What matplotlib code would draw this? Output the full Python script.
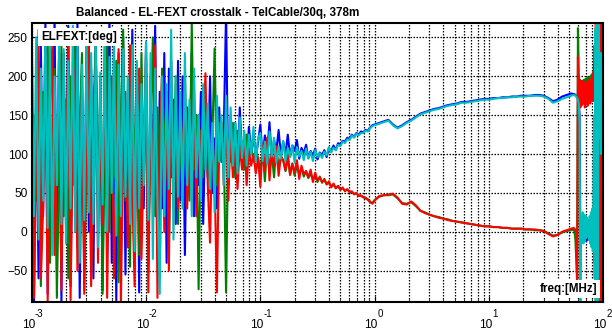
import matplotlib
matplotlib.use("Agg")
import matplotlib.pyplot as plt
from matplotlib.ticker import LogLocator, NullFormatter, FixedLocator

plt.rcParams['font.family'] = ['Liberation Sans', 'DejaVu Sans']

# ---------------- data ----------------
title = "Balanced - EL-FEXT crosstalk - TelCable/30q, 378m"
ylabel_txt = "ELFEXT:[deg]"
xlabel_txt = "freq:[MHz]"

mant50 = [1.000, 1.047, 1.096, 1.148, 1.202, 1.259, 1.318, 1.380, 1.445, 1.514,
          1.585, 1.660, 1.738, 1.820, 1.905, 1.995, 2.089, 2.188, 2.291, 2.399,
          2.512, 2.630, 2.754, 2.884, 3.020, 3.162, 3.311, 3.467, 3.631, 3.802,
          3.981, 4.169, 4.365, 4.571, 4.786, 5.012, 5.248, 5.495, 5.754, 6.026,
          6.310, 6.607, 6.918, 7.244, 7.586, 7.943, 8.318, 8.710, 9.120, 9.550]
mant25 = mant50[::2]
freq_hf = list(range(55, 101))
freq = ([m * 1e-3 for m in mant50] + [m * 1e-2 for m in mant50] +
        [m * 1e-1 for m in mant50] + [m * 1.0 for m in mant25] +
        [m * 10.0 for m in mant25[:19]] + freq_hf)

# blue
blue_lf = [280, -95, 180, -60, 240, 20, 270, -80, 150, 60,
           275, -50, 200, -90, 230, 10, 265, -70, 190, 40,
           270, -85, 160, -30, 250, 0, 210, -60, 260, 30,
           180, -75, 240, 50, 275, -40, 200, -90, 230, 20,
           250, -55, 170, 40, 260, -20, 215, -78, 190, 30,
           240, -50, 200, 60, 265, -20, 180, 30, 230, -40,
           210, 70, 170, 10, 220, 40, 200, -30, 160, 80,
           230, 20, 150, 60, 180, 10, 140, 70, 200, 50,
           120, 30, 160, 90, 130, 280, 60, 150, 80, 140,
           70, 160, 95, 120, 85, 135, 100, 125, 95, 115]
blue_mf = [138, 96, 124, 102, 141, 94, 118, 104, 131, 97,
           116, 99, 125, 97, 111, 104, 118, 94, 108, 101,
           112, 95, 104, 98, 107, 93, 102, 99, 105, 96,
           108, 104, 111, 105, 114, 112, 117, 116, 121, 119,
           125, 122, 127, 125, 129, 128, 131, 130, 134, 137]
blue_f3 = [138, 140, 142, 144, 138, 134, 137, 141, 144, 148, 152, 154, 156,
           158, 159, 161, 163, 164, 165, 167, 167, 168, 169, 170, 171]
blue_f4 = [171, 172, 172, 173, 173, 174, 174, 175, 175, 175, 176, 176, 175,
           172, 168, 170, 174, 176, 178]
blue_hf = [177, 177, 176, 175, 173, 171, 168, 150, -5, -10, -12, -6, -14, -8,
           -10, -5, -12, -8, -6, -10, -4, -9, -3, -8, 0, -6, 5, -10, 20, -40,
           60, -80, 150, 40, 200, -60, 120, 160, 60, 140, 180, 90, 170, 130,
           150, 140]

# green
green_lf = [-90, 150, 40, 220, -70, 180, 100, 250, -40, 130,
            210, -85, 90, 240, 20, 170, -60, 200, 60, 260,
            -20, 140, 230, -75, 110, 190, -50, 160, 240, 30,
            200, -80, 120, 250, 0, 180, 70, 220, -65, 150,
            260, 40, 100, -45, 210, 80, 170, -30, 230, 60,
            190, -40, 140, 250, 20, 160, -60, 210, 90, 180,
            -20, 150, 70, 200, 10, 130, 60, 180, 90, 40,
            270, 80, 150, -74, 130, 70, 160, 100, 50, 120,
            236, 60, 140, 90, 110, -78, 120, 90, 140, 70,
            130, 100, 115, 80, 125, 95, 110, 90, 105, 95]
green_mf = [75, 105, 65, 115, 80, 100, 70, 110, 82, 95,
            92, 78, 95, 74, 88, 72, 86, 74, 82, 71,
            78, 69, 75, 67, 73, 64, 71, 63, 68, 61,
            63, 58, 61, 56, 59, 54, 56, 53, 54, 52,
            51, 49, 49, 47, 46, 45, 43, 42, 38, 37]
green_f3 = [41, 45, 47, 47, 48, 43, 37, 36, 38, 33, 27, 25, 22, 20, 19, 17,
            16, 14, 13, 12, 11, 10, 9, 8, 7]
green_f4 = [7, 6, 6, 5, 5, 4, 4, 4, 3, 3, 2, 2, 1, -2, -5, -4, -1, 1, 2]
green_hf = [3, 0, -10, -35, -62, 262, 200, 192, 195, 190, 194, 191, 195, 192,
            196, 193, 197, 194, 198, 195, 199, 196, 200, 197, 202, 199, 204,
            200, 215, 180, 260, -90, 150, 60, 230, -40, 200, 90, 180, 120,
            -90, 40, 160, 100, 140, 120]

# red
red_lf = [190, -85, 100, 260, -60, 30, 200, -90, 150, 240,
          -30, 80, 230, -75, 170, 60, 250, -88, 120, 210,
          -50, 40, 185, -80, 140, 255, -70, 90, 220, -40,
          160, 10, 245, -85, 130, 200, -60, 70, 235, -90,
          110, 180, -20, 240, 50, -70, 150, 210, -35, 100,
          230, -78, 170, 60, 240, -85, 120, 200, 0, 180,
          -50, 220, 90, 150, 30, 160, 80, 200, 30, 140,
          60, 180, 20, 150, 90, 120, 204, 60, -14, 130,
          70, -78, 110, 140, 60, 150, 40, 130, 70, 120,
          55, 110, 80, 125, 60, 105, 85, 100, 75, 95]
red_mf = [58, 112, 78, 121, 66, 104, 84, 110, 72, 98,
          92, 79, 101, 73, 87, 76, 92, 68, 85, 74,
          78, 70, 80, 64, 76, 66, 70, 64, 67, 61,
          65, 57, 62, 56, 59, 54, 57, 52, 55, 51,
          52, 48, 50, 46, 47, 44, 44, 41, 39, 36]
red_f3 = [40, 46, 47, 48, 49, 44, 36, 35, 39, 34, 27, 24, 22, 20, 18, 17,
          15, 14, 13, 12, 11, 10, 9, 8, 7]
red_f4 = [7, 6, 6, 5, 5, 4, 4, 4, 3, 3, 3, 2, 1, -3, -6, -4, 0, 2, 4]
red_hf = [5, 4, 2, 0, -70, 225, 165, 195, 160, 192, 163, 194, 165, 190, 160,
          193, 166, 191, 162, 195, 168, 192, 165, 196, 170, 198, 168, 205,
          175, 240, 150, 270, -90, 260, -90, 100, -90, 250, -90, -60, 270,
          -90, -80, 50, -90, 0]

# cyan
cyan_lf = [230, 20, 250, -10, 210, 40, 260, 5, 240, -30,
           200, 60, 255, 10, 235, -15, 220, 30, 265, 0,
           245, -40, 215, 15, 250, 25, 230, 10, 245, -20,
           205, 35, 240, 0, 225, 50, 250, -5, 215, 20,
           235, 45, 200, 10, 240, -25, 220, 30, 190, 60,
           245, 15, 230, -35, 210, 40, -80, 200, 20, 190,
           55, 260, -10, 200, 45, 180, 30, 230, 60, 170,
           20, 210, 70, 150, 40, 190, 80, 165, 55, 140,
           25, 175, 90, 150, 60, 175, 70, 160, 85, 140,
           75, 147, 95, 130, 85, 125, 100, 135, 90, 120]
cyan_mf = [127, 91, 116, 87, 129, 97, 121, 89, 110, 94,
           117, 91, 108, 96, 111, 89, 109, 97, 104, 92,
           107, 94, 103, 91, 105, 96, 101, 95, 103, 98,
           109, 102, 108, 105, 112, 110, 116, 114, 119, 118,
           124, 121, 126, 124, 127, 127, 130, 129, 133, 136]
cyan_f3 = [137, 139, 141, 143, 137, 133, 136, 140, 143, 147, 151, 153, 155,
           157, 158, 160, 162, 163, 164, 166, 166, 167, 168, 169, 170]
cyan_f4 = [170, 171, 172, 172, 173, 173, 174, 174, 174, 175, 175, 175, 174,
           171, 166, 168, 171, 173, 175]
cyan_hf = [176, 176, 175, 174, 172, 170, 165, 140, -90, 20, -10, 25, -15, 22,
           -12, 20, -8, 18, -5, 15, -10, 20, -15, 25, -20, 30, -25, 40, 150,
           -60, 260, -90, 270, -80, 250, -90, 270, 150, 200, 120, 230, 100,
           180, 130, 200, 150]

blue = blue_lf + blue_mf + blue_f3 + blue_f4 + blue_hf
green = green_lf + green_mf + green_f3 + green_f4 + green_hf
red = red_lf + red_mf + red_f3 + red_f4 + red_hf
cyan = cyan_lf + cyan_mf + cyan_f3 + cyan_f4 + cyan_hf

yticks = [-50, 0, 50, 100, 150, 200, 250]
decades = [-3, -2, -1, 0, 1, 2]

# ---------------- plot ----------------
W, H = 612, 332
fig = plt.figure(figsize=(W / 100, H / 100), dpi=100)
L, R, T, B = 31.7, 603.3, 22.7, 301.7
ax = fig.add_axes([L / W, 1 - B / H, (R - L) / W, (B - T) / H])

for ys, col in [(blue, '#0000ff'), (green, '#008000'), (red, '#ff0000'), (cyan, '#00bfbf')]:
    ax.plot(freq, ys, color=col, lw=1.5, solid_joinstyle='round')

ax.set_xscale('log')
ax.set_xlim(1e-3, 1e2)
ax.set_ylim(-90, 269)
ax.set_axisbelow(True)

ax.xaxis.set_major_locator(FixedLocator([10.0 ** d for d in decades]))
ax.xaxis.set_minor_locator(LogLocator(base=10, subs=range(2, 10), numticks=20))
ax.xaxis.set_major_formatter(NullFormatter())
ax.xaxis.set_minor_formatter(NullFormatter())
ax.set_yticks(yticks)

gstyle = dict(color='black', linestyle=(0, (1.2, 1.2)), linewidth=0.9)
ax.xaxis.grid(True, which='both', **gstyle)
ax.yaxis.grid(True, which='major', **gstyle)

ax.tick_params(axis='both', which='both', direction='in', color='black')
ax.tick_params(axis='both', which='major', length=4, width=0.8)
ax.tick_params(axis='x', which='minor', length=2, width=0.6)
ax.tick_params(axis='y', labelsize=8.6, pad=3)
for s in ax.spines.values():
    s.set_linewidth(1.5)
    s.set_color('black')

for d in decades:
    ax.annotate("10", xy=(10.0 ** d, 0), xycoords=('data', 'axes fraction'),
                xytext=(-3.5, -23), textcoords='offset pixels',
                ha='center', va='center', fontsize=8.6, annotation_clip=False)
    ax.annotate(str(d), xy=(10.0 ** d, 0), xycoords=('data', 'axes fraction'),
                xytext=(3.0, -12), textcoords='offset pixels',
                ha='left', va='center', fontsize=7, annotation_clip=False)

bbox = dict(facecolor='white', edgecolor='none', pad=2.0)
ax.text(0.0163, 0.949, ylabel_txt, transform=ax.transAxes, fontsize=8.4,
        fontweight='bold', ha='left', va='center', bbox=bbox, zorder=5)
ax.text(0.989, 0.0455, xlabel_txt, transform=ax.transAxes, fontsize=8.4,
        fontweight='bold', ha='right', va='center', bbox=bbox, zorder=5)

fig.text(76 / W, 1 - 16 / H, title, fontsize=8.4, fontweight='bold',
         ha='left', va='baseline')

fig.savefig('out.png', dpi=100)
